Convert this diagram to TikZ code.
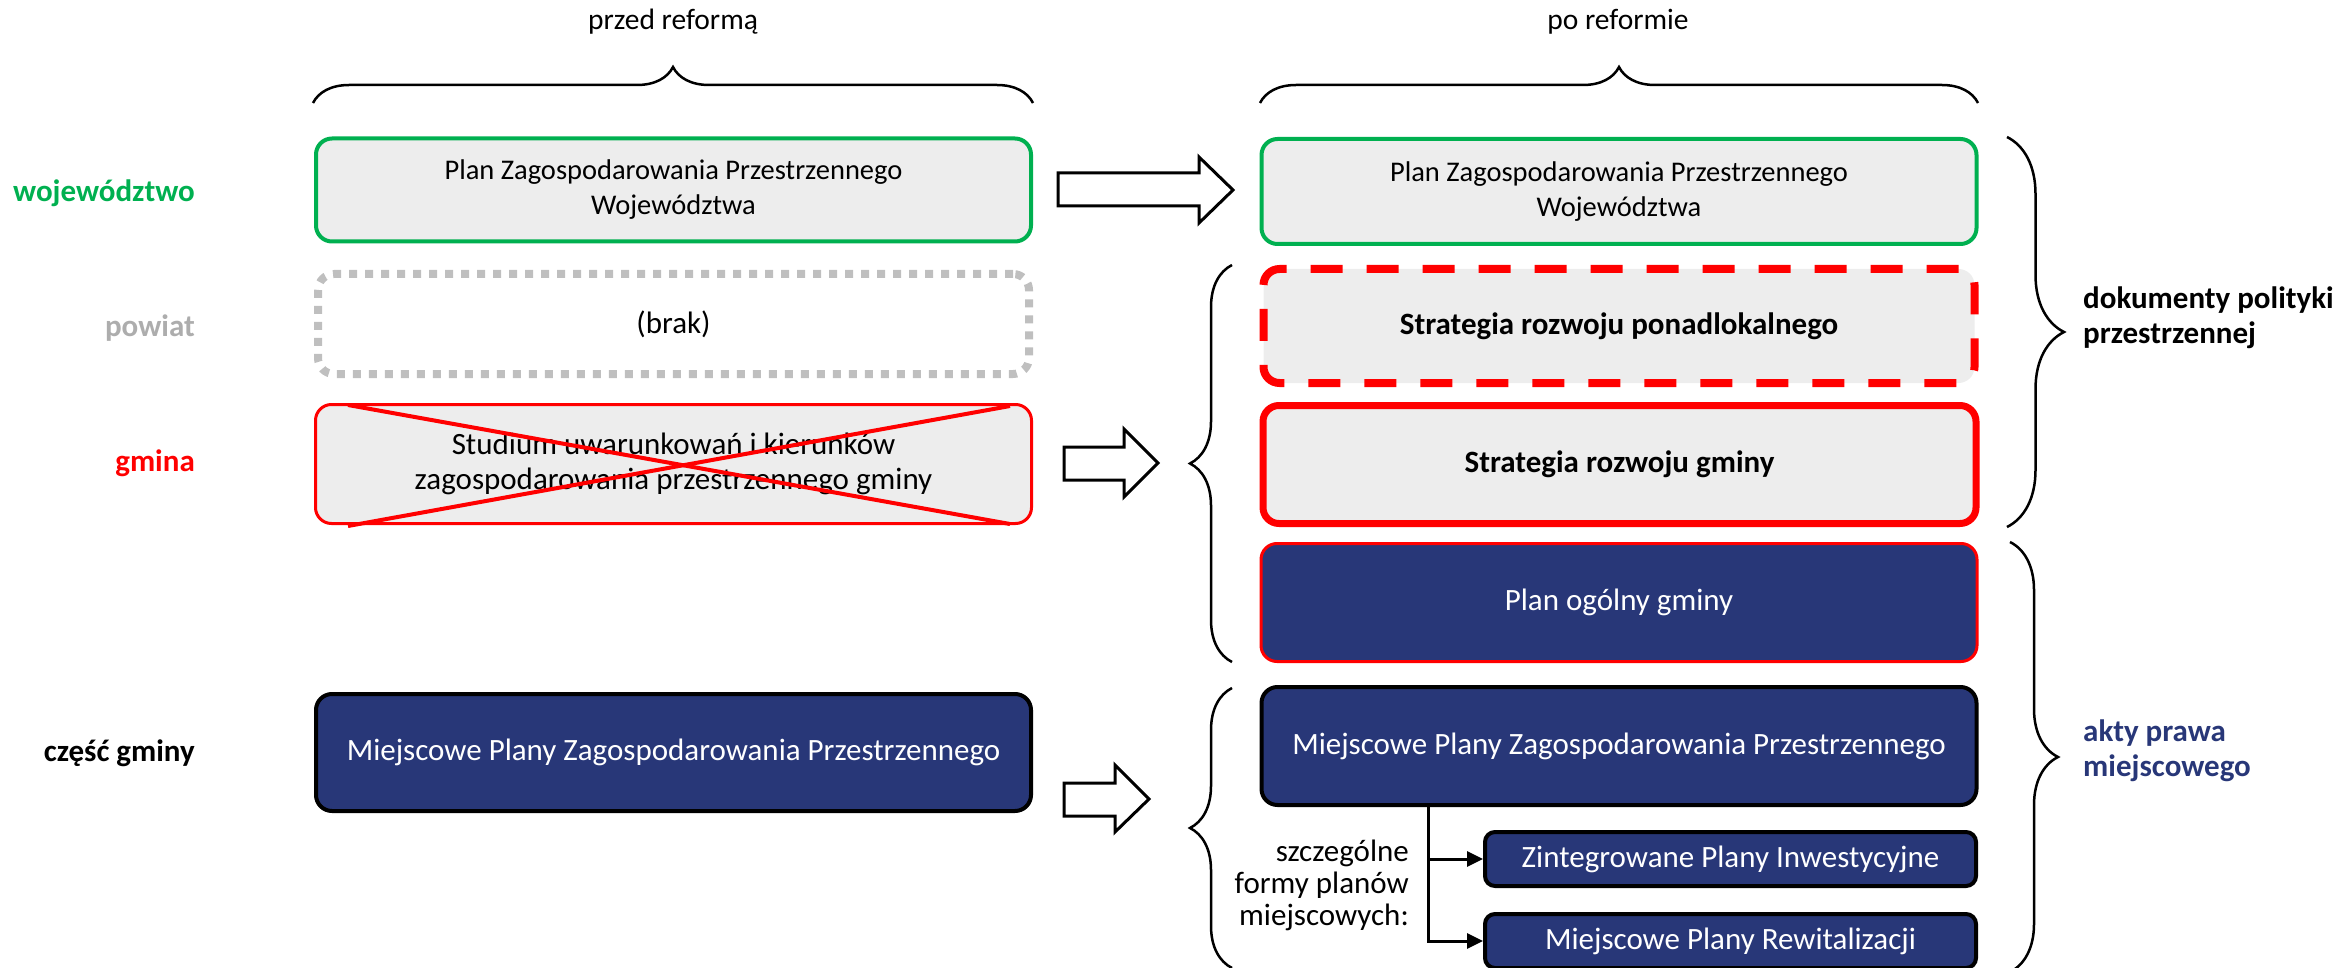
\documentclass[tikz,border=0pt]{standalone}
\usepackage{fontspec}
\setmainfont{Carlito}
\usetikzlibrary{decorations.pathreplacing,arrows.meta}
\definecolor{cgreen}{HTML}{00B050}
\definecolor{cred}{HTML}{FF0000}
\definecolor{cnavy}{RGB}{40,55,120}
\definecolor{cfill}{HTML}{EDEDED}
\definecolor{cgray}{HTML}{BFBFBF}
\definecolor{clabgray}{HTML}{ADADAD}
\begin{document}
\begin{tikzpicture}[x=1pt,y=-1pt,
  every node/.style={font=\fontsize{31}{35}\selectfont, inner sep=0pt},
  basebox/.style={rectangle, rounded corners=16pt, align=center},
  greenbox/.style={basebox, draw=cgreen, line width=4pt, fill=cfill, font=\fontsize{28.5}{35}\selectfont},
  graybox/.style={basebox, draw=cgray, line width=8pt, dash pattern=on 8pt off 8pt},
  redthin/.style={basebox, draw=cred, line width=3pt, fill=cfill},
  reddash/.style={basebox, draw=cred, line width=8pt, dash pattern=on 32pt off 24pt, fill=cfill, font=\fontsize{31}{35}\selectfont\bfseries},
  redthick/.style={basebox, draw=cred, line width=7pt, fill=cfill, font=\fontsize{31}{35}\selectfont\bfseries},
  navyred/.style={basebox, draw=cred, line width=3pt, fill=cnavy, text=white},
  navyblack/.style={basebox, draw=black, line width=4pt, fill=cnavy, text=white},
  smallnavy/.style={basebox, rounded corners=10pt, draw=black, line width=4pt, fill=cnavy, text=white},
  lab/.style={anchor=east, font=\fontsize{31}{35}\selectfont\bfseries},
  rlab/.style={anchor=west, align=left, font=\fontsize{31}{35}\selectfont\bfseries},
  barrow/.style={draw=black, line width=3pt, fill=white, line join=miter},
  bracestyle/.style={draw=black, line width=2.5pt, decorate, decoration={brace, amplitude=#1}},
  conn/.style={draw=black, line width=3pt, -{Triangle[length=16pt,width=15pt]}}
]
\useasboundingbox (0,0) rectangle (2344,968);

% column headers
\node[font=\fontsize{29.5}{35}\selectfont] (hL) at (673,22) {przed reformą};
\node[font=\fontsize{29.5}{35}\selectfont] (hR) at (1618,22) {po reformie};
\draw[bracestyle=36pt] (313,103) -- (1033,103);
\draw[bracestyle=36pt] (1260,103) -- (1978,103);

% row labels
\node[lab, text=cgreen] (lw) at (195,193) {województwo};
\node[lab, text=clabgray] (lp) at (195,328) {powiat};
\node[lab, text=cred] (lg) at (195,463) {gmina};
\node[lab, text=black] (lc) at (195,753) {część gminy};

% left column
\node[greenbox, minimum width=715pt, minimum height=103pt] (L1) at (673.5,190) {Plan Zagospodarowania Przestrzennego\\Województwa};
\node[graybox, minimum width=711pt, minimum height=100pt] (L2) at (673.5,324) {(brak)};
\node[redthin, minimum width=716pt, minimum height=119pt] (L3) at (673.5,464) {Studium uwarunkowań i kierunków\\zagospodarowania przestrzennego gminy};
\node[navyblack, minimum width=715pt, minimum height=117pt] (L4) at (673.5,752.5) {Miejscowe Plany Zagospodarowania Przestrzennego};
\draw[cred, line width=4pt] (348,405) -- (1010,524);
\draw[cred, line width=4pt] (1010,406) -- (348,526);

% right column
\node[greenbox, minimum width=715pt, minimum height=105pt] (R1) at (1619,191.5) {Plan Zagospodarowania Przestrzennego\\Województwa};
\node[reddash, minimum width=711pt, minimum height=114pt] (R2) at (1619,326) {Strategia rozwoju ponadlokalnego};
\node[redthick, minimum width=713pt, minimum height=118pt] (R3) at (1619.5,464.5) {Strategia rozwoju gminy};
\node[navyred, minimum width=716pt, minimum height=118pt] (R4) at (1619,602.5) {Plan ogólny gminy};
\node[navyblack, minimum width=715pt, minimum height=118pt] (R5) at (1619,746) {Miejscowe Plany Zagospodarowania Przestrzennego};
\node[smallnavy, minimum width=491pt, minimum height=54pt] (R6) at (1730.5,859) {Zintegrowane Plany Inwestycyjne};
\node[smallnavy, minimum width=491pt, minimum height=54pt] (R7) at (1730.5,941) {Miejscowe Plany Rewitalizacji};
\node[anchor=east, align=right, font=\fontsize{31}{32}\selectfont] (sz) at (1409,885) {szczególne\\formy planów\\miejscowych:};
\draw[conn] ([xshift=169pt]R5.south west) |- (R6.west);
\draw[conn] ([xshift=169pt]R5.south west) |- (R7.west);

% block arrows
\draw[barrow] (1058,173) -- (1199,173) -- (1199,157) -- (1233,190) -- (1199,223) -- (1199,206) -- (1058,206) -- cycle;
\draw[barrow] (1064,447) -- (1124,447) -- (1124,429) -- (1158,463) -- (1124,497) -- (1124,480) -- (1064,480) -- cycle;
\draw[barrow] (1064,783) -- (1115,783) -- (1115,765) -- (1149,799) -- (1115,832) -- (1115,816) -- (1064,816) -- cycle;

% side braces
\draw[bracestyle=42pt] (1232,662) -- (1232,265);
\draw[bracestyle=42pt] (1232,968) -- (1232,688);
\draw[bracestyle=57pt] (2007,137) -- (2007,527);
\draw[bracestyle=48pt] (2010,542) -- (2010,972);

\node[rlab, text=black] (dk) at (2083,317.5) {dokumenty polityki\\przestrzennej};
\node[rlab, text=cnavy] (ak) at (2083,750.5) {akty prawa\\miejscowego};
\end{tikzpicture}
\end{document}
